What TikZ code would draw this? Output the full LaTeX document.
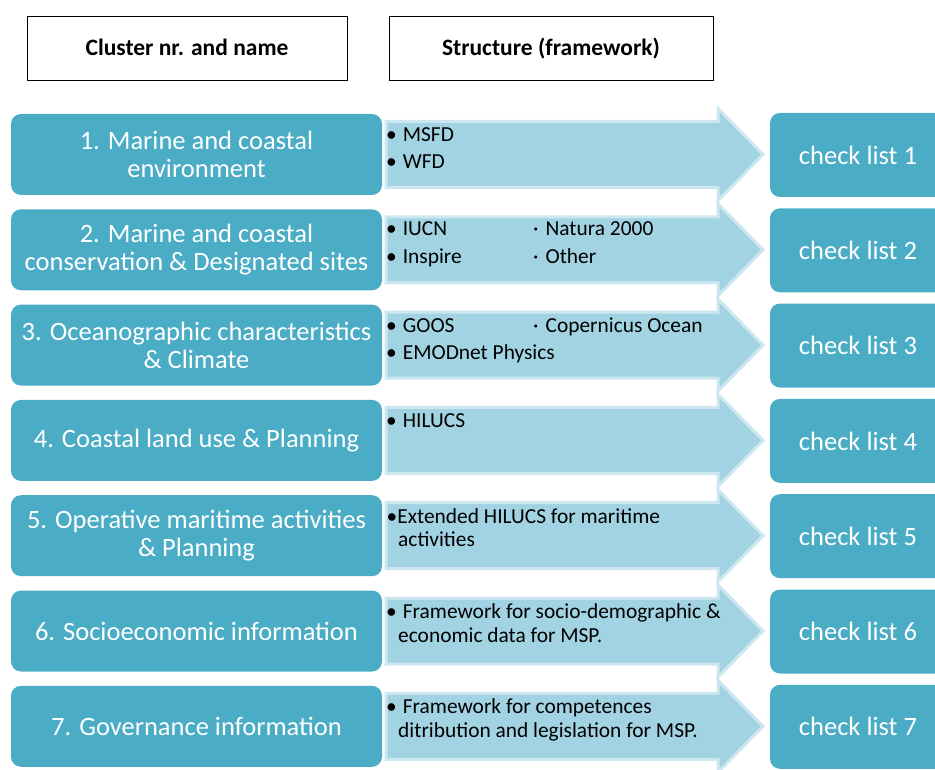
\documentclass[tikz,border=0pt]{standalone}
\usepackage{fontspec}
\setmainfont{Carlito}
\definecolor{boxc}{HTML}{4BACC6}
\definecolor{arrc}{HTML}{A2D3E2}
\definecolor{arre}{HTML}{CCE7EF}
\begin{document}
\begin{tikzpicture}[x=1pt,y=-1pt,
  header/.style={draw=black, line width=0.8pt, minimum width=320pt, minimum height=64pt, inner sep=0pt, text height=15pt, text depth=0pt, font=\fontsize{23.5}{26}\selectfont\bfseries},
  cluster/.style={fill=boxc, rounded corners=10pt, text=white, align=center, minimum width=371pt, minimum height=81pt, inner sep=0pt, font=\fontsize{26.5}{28}\selectfont},
  checkbox/.style={fill=boxc, rounded corners=10pt, text=white, minimum width=176pt, minimum height=84pt, inner sep=0pt, font=\fontsize{26.5}{30}\selectfont},
  arrowshape/.style={fill=arrc, draw=arre, line width=3pt, line join=miter},
  item/.style={anchor=base west, inner sep=0pt, font=\fontsize{21.4}{24}\selectfont}
]
\useasboundingbox (0,0) rectangle (935,770);
\clip (0,0) rectangle (935,770);

\node[header] (h1) at (187,48) {Cluster nr. and name};
\node[header, minimum width=324pt] (h2) at (551,48) {Structure (framework)};

\foreach \i/\y in {1/154.5,2/249.8,3/345.1,4/440.4,5/535.7,6/631.0,7/726.3}{
  \path[arrowshape] (386,\y-33) -- (718,\y-33) -- (718,\y-46) -- (763,\y) -- (718,\y+46) -- (718,\y+33) -- (386,\y+33) -- cycle;
  \node[checkbox] (c\i) at (858,\y+0.5) {check list \i};
}

\node[cluster] (l1) at (196.5,154.5) {1. Marine and coastal\\environment};
\node[cluster] (l2) at (196.5,249.8) {2. Marine and coastal\\conservation \& Designated sites};
\node[cluster] (l3) at (196.5,345.1) {3. Oceanographic characteristics\\\& Climate};
\node[cluster] (l4) at (196.5,440.4) {4. Coastal land use \& Planning};
\node[cluster] (l5) at (196.5,535.7) {5. Operative maritime activities\\\& Planning};
\node[cluster] (l6) at (196.5,631.0) {6. Socioeconomic information};
\node[cluster] (l7) at (196.5,726.3) {7. Governance information};

% row 1
\node[item] (a1) at (386,141.5) {•\hspace{6pt}MSFD};
\node[item] (b1) at (386,168.5) {•\hspace{6pt}WFD};
% row 2
\node[item] (a2) at (386,236) {•\hspace{6pt}IUCN};
\node[item] (b2) at (386,263.5) {•\hspace{6pt}Inspire};
\node[item] (d2) at (533,236) {·\hspace{7pt}Natura 2000};
\node[item] (e2) at (533,263.5) {·\hspace{7pt}Other};
% row 3
\node[item] (a3) at (386,332) {•\hspace{6pt}GOOS};
\node[item] (b3) at (386,359.5) {•\hspace{6pt}EMODnet Physics};
\node[item] (d3) at (533,332) {·\hspace{7pt}Copernicus Ocean};
% row 4
\node[item] (a4) at (386,427.5) {•\hspace{6pt}HILUCS};
% row 5
\node[item] (a5) at (386.5,523.3) {•Extended HILUCS for maritime};
\node[item] (b5) at (398,546.7) {activities};
% row 6
\node[item] (a6) at (386,618.3) {•\hspace{6pt}Framework for socio-demographic \&};
\node[item] (b6) at (398,642.3) {economic data for MSP.};
% row 7
\node[item] (a7) at (386,713.3) {•\hspace{6pt}Framework for competences};
\node[item] (b7) at (398,737.3) {ditribution and legislation for MSP.};
\end{tikzpicture}
\end{document}
